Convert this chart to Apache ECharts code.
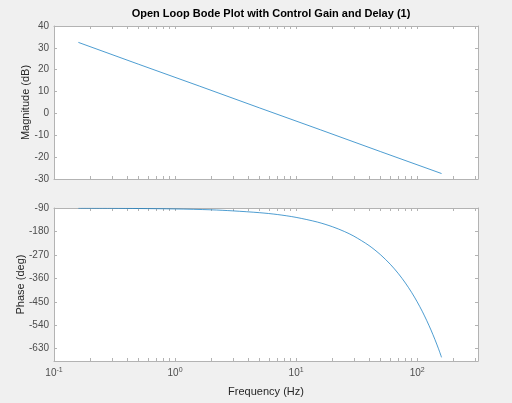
<!DOCTYPE html>
<html>
<head>
<meta charset="utf-8">
<script src="https://cdn.jsdelivr.net/npm/echarts@6/dist/echarts.min.js"></script>
<style>
  html, body { margin: 0; padding: 0; background: #f0f0f0; }
  #chart { width: 512px; height: 403px; }
</style>
</head>
<body>
<div id="chart"></div>
<script>
// values
var magFreq = [0.159, 0.5, 1.59, 5, 15.9, 50, 159];
var magDb = [32.5, 22.5, 12.5, 2.5, -7.5, -17.5, -27.5];

var phaseFreq = [0.159, 0.3, 0.5, 1, 2, 3, 5, 7, 10, 15, 20, 25, 30, 40, 50, 60, 70, 80, 90, 100, 110, 120, 130, 140, 150, 159];
var phaseDeg = [-90.6, -91, -92, -93.6, -97, -101, -108, -115, -126, -144, -162, -180, -198, -234, -270, -306, -342, -378, -414, -450, -486, -522, -558, -594, -630, -663];

var magTicks = [-30, -20, -10, 0, 10, 20, 30, 40];
var phaseTicks = [-630, -540, -450, -360, -270, -180, -90];
var freqMinor = [0.2, 0.3, 0.4, 0.5, 0.6, 0.7, 0.8, 0.9, 1, 2, 3, 4, 5, 6, 7, 8, 9, 10,
  20, 30, 40, 50, 60, 70, 80, 90, 100, 200, 300];

var lineCol = '#0072bd';
var boxCol = '#b3b3b3';
var txtCol = '#4d4d4d';
var font = 'Liberation Sans, Arial, sans-serif';

function pairs(xs, ys) {
  return xs.map(function (x, i) { return [x, ys[i]]; });
}

function xAxisFor(grid, pos, showLabels) {
  return {
    type: 'log', logBase: 10, gridIndex: grid, position: pos,
    min: 0.1, max: 318,
    axisLine: { show: true, onZero: false, lineStyle: { color: boxCol, width: 1 } },
    axisTick: { show: true, inside: true, length: 3, customValues: freqMinor,
      lineStyle: { color: boxCol } },
    splitLine: { show: false },
    axisLabel: {
      show: showLabels, showMaxLabel: false, color: txtCol, fontFamily: font, fontSize: 10, margin: 6,
      formatter: function (v) {
        var e = Math.round(Math.log10(v));
        return '{b|10}{s|' + e + '}';
      },
      rich: {
        b: { fontSize: 10, color: txtCol, fontFamily: font },
        s: { fontSize: 7, color: txtCol, fontFamily: font, padding: [0, 0, 6, 0] }
      }
    },
    name: showLabels ? 'Frequency (Hz)' : '',
    nameLocation: 'middle', nameGap: 25,
    nameTextStyle: { color: '#262626', fontFamily: font, fontSize: 11 }
  };
}

function yAxisFor(grid, pos, min, max, ticks, name, gap) {
  var showLabels = pos === 'left';
  return {
    type: 'value', gridIndex: grid, position: pos,
    min: min, max: max,
    axisLine: { show: true, onZero: false, lineStyle: { color: boxCol, width: 1 } },
    axisTick: { show: true, inside: true, length: 3, customValues: ticks,
      lineStyle: { color: boxCol } },
    splitLine: { show: false },
    axisLabel: { show: showLabels, customValues: ticks, color: txtCol,
      fontFamily: font, fontSize: 10, margin: 5 },
    name: showLabels ? name : '',
    nameLocation: 'middle', nameGap: gap, nameMoveOverlap: false,
    nameTextStyle: { color: '#262626', fontFamily: font, fontSize: 11 }
  };
}

var chart = echarts.init(document.getElementById('chart'));
chart.setOption({
  backgroundColor: '#f0f0f0',
  animation: false,
  title: {
    text: 'Open Loop Bode Plot with Control Gain and Delay (1)',
    left: 266, top: 3, textAlign: 'center',
    textStyle: { fontFamily: font, fontSize: 11, fontWeight: 'bold', color: '#000' }
  },
  grid: [
    { left: 54, top: 26, width: 424, height: 153, show: true, backgroundColor: '#fff', borderWidth: 0 },
    { left: 54, top: 208, width: 424, height: 153, show: true, backgroundColor: '#fff', borderWidth: 0 }
  ],
  xAxis: [
    xAxisFor(0, 'bottom', false),
    xAxisFor(0, 'top', false),
    xAxisFor(1, 'bottom', true),
    xAxisFor(1, 'top', false)
  ],
  yAxis: [
    yAxisFor(0, 'left', -30, 40, magTicks, 'Magnitude (dB)', 23),
    yAxisFor(0, 'right', -30, 40, magTicks, '', 0),
    yAxisFor(1, 'left', -677, -90, phaseTicks, 'Phase (deg)', 28),
    yAxisFor(1, 'right', -677, -90, phaseTicks, '', 0)
  ],
  series: [
    { type: 'line', xAxisIndex: 0, yAxisIndex: 0, data: pairs(magFreq, magDb),
      showSymbol: false, lineStyle: { color: lineCol, width: 0.7 } },
    { type: 'line', xAxisIndex: 2, yAxisIndex: 2, data: pairs(phaseFreq, phaseDeg),
      smooth: 0.3, showSymbol: false, lineStyle: { color: lineCol, width: 0.7 } }
  ]
});
</script>
</body>
</html>
